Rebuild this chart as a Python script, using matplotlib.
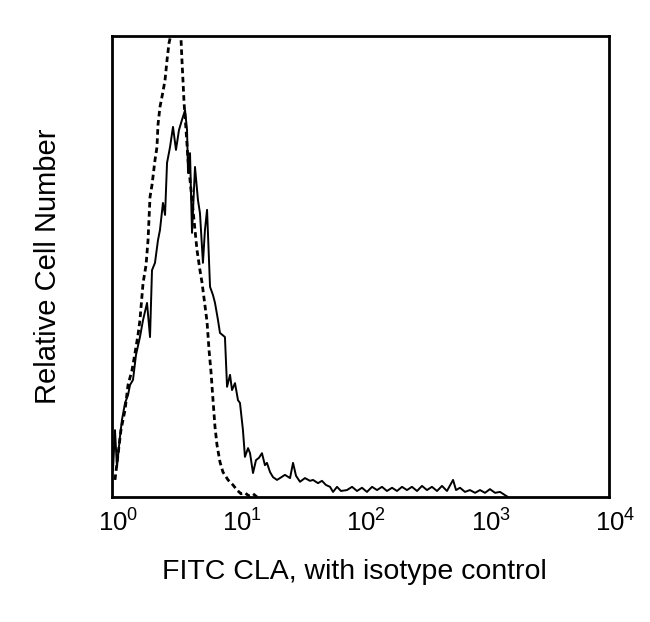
import numpy as np
import matplotlib
matplotlib.use("Agg")
import matplotlib.pyplot as plt
import matplotlib.transforms as mtransforms

plt.rcParams['font.family'] = ['Liberation Sans', 'DejaVu Sans']
plt.rcParams['mathtext.fontset'] = 'custom'
plt.rcParams['mathtext.rm'] = 'Liberation Sans'

# FITC CLA stained sample (log10 of fluorescence, relative count 0-100)
cla_log = [0.008, 0.024, 0.040, 0.064, 0.080, 0.105, 0.129, 0.145, 0.169, 0.193,
           0.225, 0.250, 0.282, 0.306, 0.322, 0.346, 0.370, 0.386, 0.410, 0.427,
           0.443, 0.467, 0.491, 0.515, 0.539, 0.563, 0.588, 0.604, 0.612, 0.628,
           0.644, 0.668, 0.692, 0.708, 0.732, 0.748, 0.765, 0.789, 0.813, 0.829,
           0.853, 0.869, 0.909, 0.926, 0.950, 0.966, 0.990, 1.014, 1.030, 1.054,
           1.070, 1.095, 1.111, 1.135, 1.159, 1.183, 1.207, 1.231, 1.247, 1.272,
           1.296, 1.328, 1.352, 1.392, 1.433, 1.457, 1.481, 1.513, 1.553, 1.594,
           1.618, 1.658, 1.690, 1.722, 1.755, 1.779, 1.811, 1.843, 1.891, 1.932,
           1.972, 2.012, 2.052, 2.093, 2.133, 2.173, 2.213, 2.254, 2.294, 2.334,
           2.374, 2.414, 2.455, 2.495, 2.535, 2.575, 2.616, 2.656, 2.696, 2.745,
           2.769, 2.801, 2.841, 2.881, 2.922, 2.962, 3.002, 3.042, 3.083, 3.123,
           3.163, 3.187]
cla_count = [5.9, 14.5, 6.5, 13.0, 16.7, 20.4, 22.1, 24.3, 25.4, 30.8,
             34.7, 38.4, 42.1, 34.7, 49.2, 50.8, 55.7, 57.9, 63.8, 61.2,
             72.5, 75.9, 80.3, 75.3, 79.6, 81.8, 83.9, 79.6, 70.3, 74.6,
             57.3, 71.6, 64.4, 61.6, 50.8, 57.9, 62.3, 45.6, 43.8, 42.1,
             38.4, 35.6, 34.7, 23.9, 26.5, 23.2, 24.7, 21.0, 20.4, 14.5,
             8.7, 10.6, 9.5, 5.2, 8.0, 8.5, 9.5, 6.9, 7.4, 5.4,
             4.3, 3.7, 4.1, 4.8, 4.1, 7.4, 4.6, 3.3, 4.1, 3.5,
             3.7, 3.0, 3.5, 2.6, 2.2, 1.1, 2.2, 1.3, 1.5, 2.2,
             1.3, 2.0, 1.1, 2.2, 1.5, 2.2, 1.3, 2.0, 1.3, 2.2,
             1.5, 2.2, 1.3, 2.4, 1.5, 2.2, 1.3, 2.4, 1.3, 3.7,
             1.5, 2.0, 1.1, 1.5, 0.9, 1.5, 0.9, 1.7, 0.9, 1.1,
             0.4, 0.0]

# isotype control
iso_log = [0.024, 0.048, 0.072, 0.105, 0.129, 0.161, 0.185, 0.209, 0.225, 0.250,
           0.274, 0.290, 0.306, 0.322, 0.346, 0.362, 0.370, 0.386, 0.410, 0.427,
           0.443, 0.459, 0.475, 0.499, 0.531, 0.555, 0.563, 0.571, 0.580, 0.596,
           0.612, 0.636, 0.660, 0.684, 0.708, 0.724, 0.748, 0.765, 0.781, 0.797,
           0.813, 0.829, 0.845, 0.869, 0.893, 0.934, 0.974, 1.006, 1.038, 1.070,
           1.103, 1.135, 1.167]
iso_count = [3.7, 9.1, 14.5, 18.9, 24.3, 27.5, 31.2, 35.1, 38.4, 46.4,
             50.3, 55.7, 65.1, 67.7, 73.1, 75.9, 80.7, 84.6, 87.9, 90.5,
             94.8, 98.5, 100.4, 102.4, 101.3, 99.6, 94.8, 90.5, 85.5, 79.6,
             73.1, 66.6, 60.1, 53.6, 49.2, 46.6, 41.6, 38.0, 31.9, 27.1,
             21.0, 15.2, 11.3, 7.6, 5.4, 3.7, 2.6, 1.5, 0.7, 0.9,
             0.2, 0.7, 0.0]

decades = [0, 1, 2, 3, 4]

fig = plt.figure(figsize=(6.5, 6.22), dpi=100)
ax = fig.add_axes([0.1723, 0.201, 0.7646, 0.741])

ax.plot(10 ** np.array(cla_log), cla_count, color='black', lw=1.4)
ax.plot(10 ** np.array(iso_log), iso_count, color='black', lw=2.0,
        linestyle=(0, (2.0, 1.3)))

ax.set_xscale('log')
ax.set_xlim(1, 1e4)
ax.set_ylim(0, 100)
ax.set_xticks([10 ** d for d in decades])
ax.set_xticklabels([r'$\mathregular{10^{%d}}$' % d for d in decades], fontsize=18.5)
ax.minorticks_off()
ax.tick_params(axis='x', length=0, pad=9)
# labels in the original sit a little right of the decade position
shift = mtransforms.ScaledTranslation(6 / 100, 0, fig.dpi_scale_trans)
for lab in ax.get_xticklabels():
    lab.set_transform(lab.get_transform() + shift)
ax.set_yticks([])
for s in ax.spines.values():
    s.set_linewidth(2)

ax.set_xlabel('FITC CLA, with isotype control', fontsize=20.5)
ax.xaxis.set_label_coords(0.488, -0.135)
ax.set_ylabel('Relative Cell Number', fontsize=21)
ax.yaxis.set_label_coords(-0.10, 0.5)

fig.savefig('out.png', dpi=100)
